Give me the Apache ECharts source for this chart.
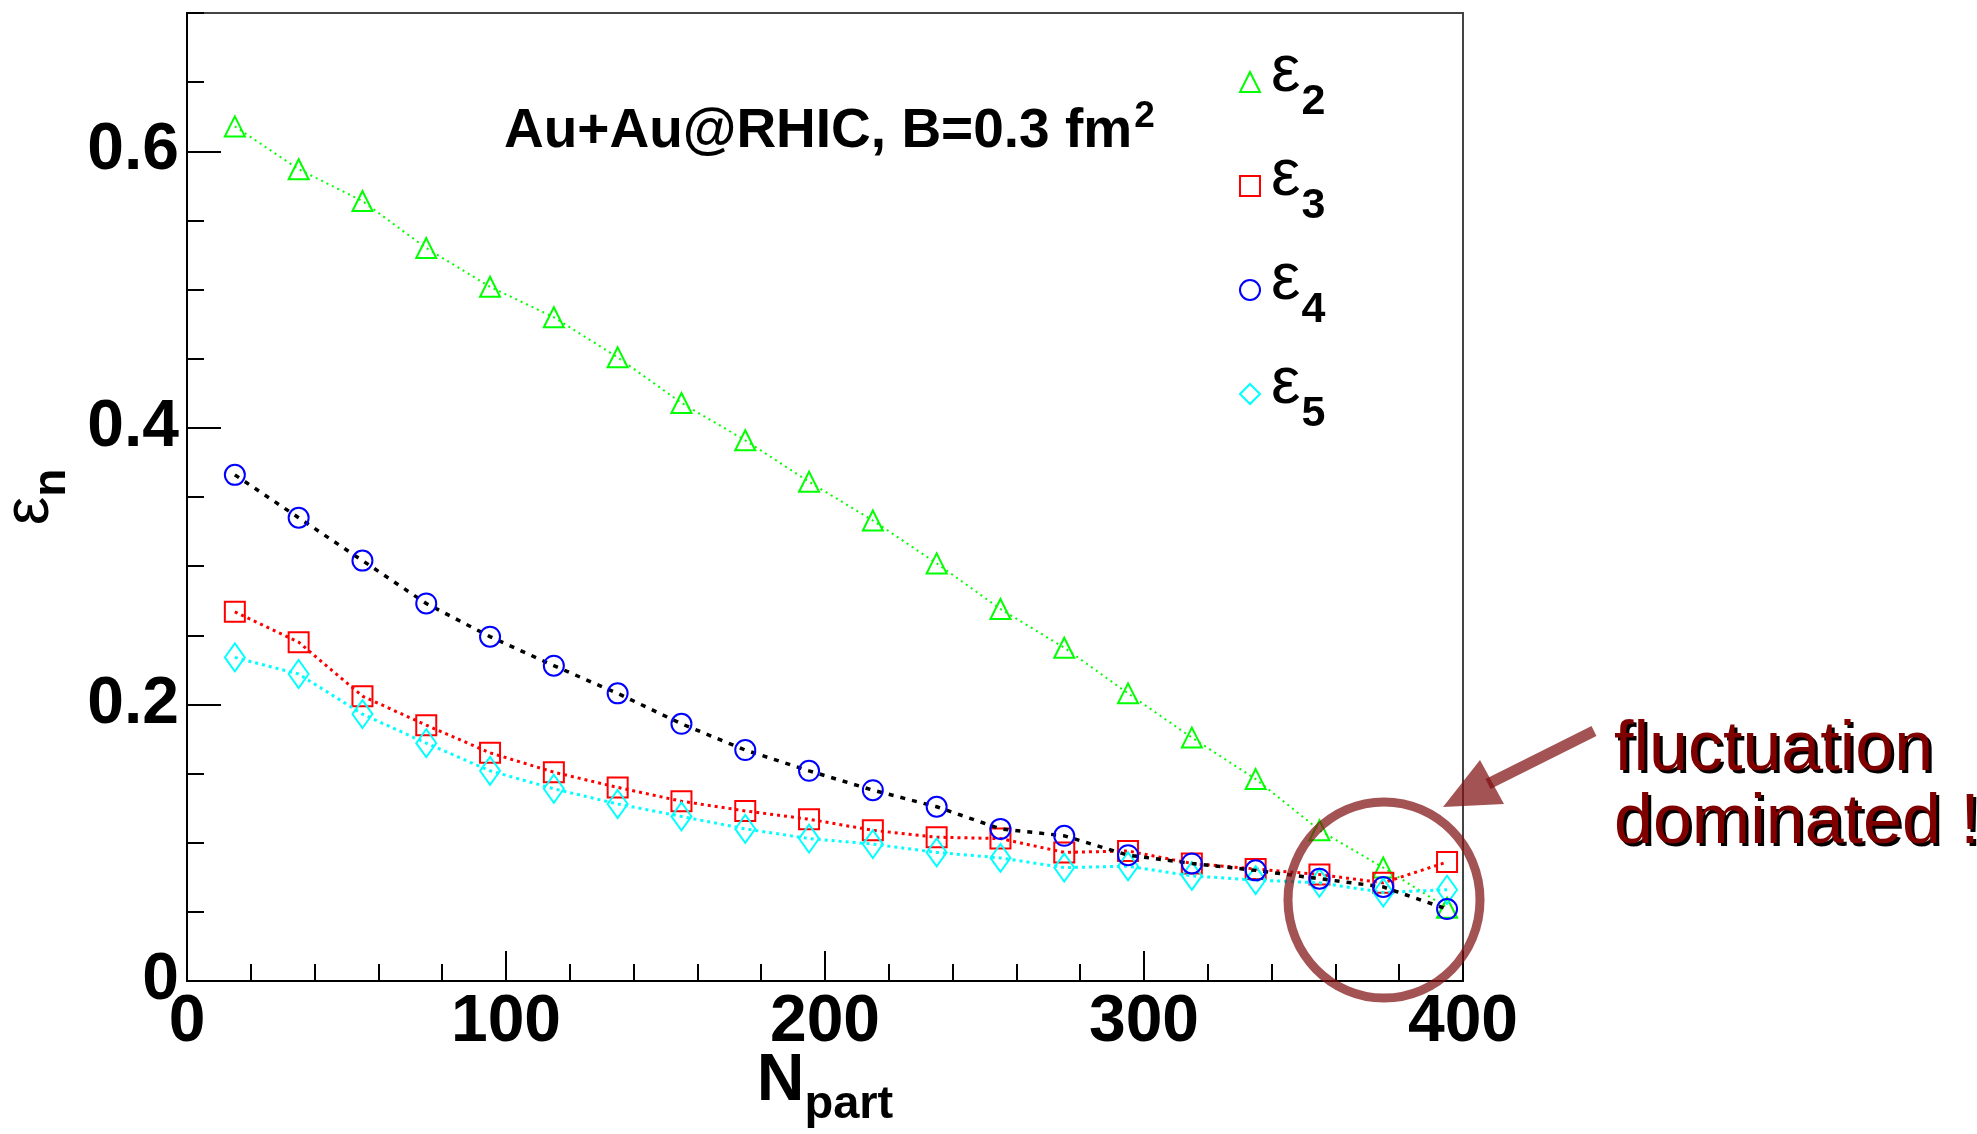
<!DOCTYPE html>
<html>
<head>
<meta charset="utf-8">
<script src="https://cdn.jsdelivr.net/npm/echarts@6/dist/echarts.min.js"></script>
<style>
html,body{margin:0;padding:0;background:#fff;}
#chart{width:1977px;height:1134px;}
</style>
</head>
<body>
<div id="chart"></div>
<script>
// ---- data ----
const npart = [15, 35, 55, 75, 95, 115, 135, 155, 175, 195, 215, 235, 255, 275, 295, 315, 335, 355, 375, 395];
const eps2 = [0.618, 0.587, 0.564, 0.530, 0.502, 0.480, 0.451, 0.418, 0.391, 0.361, 0.333, 0.302, 0.269, 0.241, 0.208, 0.176, 0.146, 0.109, 0.082, 0.053];
const eps3 = [0.267, 0.245, 0.206, 0.185, 0.165, 0.151, 0.140, 0.130, 0.123, 0.117, 0.109, 0.104, 0.103, 0.093, 0.094, 0.085, 0.081, 0.077, 0.071, 0.086];
const eps4 = [0.366, 0.335, 0.304, 0.273, 0.249, 0.228, 0.208, 0.186, 0.167, 0.152, 0.138, 0.126, 0.110, 0.105, 0.091, 0.085, 0.080, 0.074, 0.068, 0.052];
const eps5 = [0.234, 0.222, 0.193, 0.172, 0.152, 0.139, 0.128, 0.119, 0.110, 0.103, 0.099, 0.093, 0.089, 0.082, 0.083, 0.076, 0.073, 0.071, 0.064, 0.066];
const seriesNames = ['ε2', 'ε3', 'ε4', 'ε5'];
const xTicks = [0, 100, 200, 300, 400];
const yTicks = [0, 0.2, 0.4, 0.6];
const titleText = 'Au+Au@RHIC, B=0.3 fm';
const noteLines = ['fluctuation', 'dominated !'];

const FONT = '"Liberation Sans", Arial, Helvetica, sans-serif';
const chart = echarts.init(document.getElementById('chart'));
const pts = arr => npart.map((x, i) => [x, arr[i]]);
const clear = 'rgba(0,0,0,0)';

const option = {
  animation: false,
  backgroundColor: '#fff',
  title: {
    text: '{a|' + titleText + '}{b|2}',
    left: 504, top: 98, padding: 0,
    textStyle: {
      rich: {
        a: {fontSize: 55, fontWeight: 'bold', fontFamily: FONT, color: '#000', verticalAlign: 'top', padding: [6, 0, 0, 0]},
        b: {fontSize: 37, fontWeight: 'bold', fontFamily: FONT, color: '#000', verticalAlign: 'top', padding: [0, 0, 0, 2]}
      }
    }
  },
  legend: {
    orient: 'vertical', left: 1239, top: 40, padding: 0,
    itemWidth: 20, itemHeight: 20, itemGap: 20, selectedMode: false,
    data: [
      {name: seriesNames[0], icon: 'triangle', itemStyle: {color: clear, borderColor: '#00ff00', borderWidth: 2}},
      {name: seriesNames[1], icon: 'rect', itemStyle: {color: clear, borderColor: '#ff0000', borderWidth: 2}},
      {name: seriesNames[2], icon: 'circle', itemStyle: {color: clear, borderColor: '#0000ff', borderWidth: 2}},
      {name: seriesNames[3], icon: 'diamond', itemStyle: {color: clear, borderColor: '#00ffff', borderWidth: 2}}
    ],
    formatter: name => '{e|ε}{s|' + name.slice(1) + '}',
    textStyle: {
      rich: {
        e: {fontSize: 66, fontFamily: FONT, color: '#000', verticalAlign: 'top', padding: [0, 0, 0, 6]},
        s: {fontSize: 43, fontWeight: 'bold', fontFamily: FONT, color: '#000', verticalAlign: 'top', padding: [41, 0, 0, 1]}
      }
    }
  },
  grid: {left: 187, top: 13, width: 1276, height: 968, containLabel: false, outerBoundsMode: 'none',
    show: true, borderColor: '#444', borderWidth: 2, backgroundColor: clear},
  xAxis: {
    type: 'value', min: xTicks[0], max: xTicks[xTicks.length - 1], interval: 100,
    axisLine: {show: true, onZero: false, lineStyle: {color: '#000', width: 2}},
    axisTick: {show: true, inside: true, length: 30, lineStyle: {color: '#000', width: 2}},
    minorTick: {show: true, splitNumber: 5, length: 17, lineStyle: {color: '#000', width: 2}},
    splitLine: {show: false},
    axisLabel: {fontSize: 66, fontWeight: 'bold', fontFamily: FONT, color: '#000', margin: 9},
    name: '{n|N}{s|part}', nameLocation: 'middle', nameGap: 68, nameMoveOverlap: false,
    nameTextStyle: {
      rich: {
        n: {fontSize: 66, fontWeight: 'bold', fontFamily: FONT, color: '#000', verticalAlign: 'top'},
        s: {fontSize: 47, fontWeight: 'bold', fontFamily: FONT, color: '#000', verticalAlign: 'top', padding: [33, 0, 0, 0]}
      }
    }
  },
  yAxis: [
    {
      type: 'value', min: 0, max: 0.7, interval: 0.2, position: 'left',
      axisLine: {show: true, onZero: false, lineStyle: {color: '#000', width: 2}},
      axisTick: {show: true, inside: true, length: 34, lineStyle: {color: '#000', width: 2}},
      splitLine: {show: false},
      axisLabel: {
        showMaxLabel: false, fontSize: 66, fontWeight: 'bold', fontFamily: FONT, color: '#000', margin: 8,
        formatter: v => (Math.abs(v) < 1e-9 ? '0' : v.toFixed(1))
      },
      name: '{e|ε}{n|n}', nameLocation: 'middle', nameRotate: 90, nameGap: 112, nameMoveOverlap: false,
      nameTextStyle: {
        rich: {
          e: {fontSize: 64, fontFamily: FONT, color: '#000', verticalAlign: 'top'},
          n: {fontSize: 46, fontWeight: 'bold', fontFamily: FONT, color: '#000', verticalAlign: 'top', padding: [31, 0, 0, 0]}
        }
      }
    },
    {
      type: 'value', min: 0, max: 0.7, interval: 0.05, position: 'left',
      axisLine: {show: false},
      axisTick: {show: true, inside: true, length: 17, lineStyle: {color: '#000', width: 2}},
      axisLabel: {show: false},
      splitLine: {show: false}
    }
  ],
  series: [
    {
      name: seriesNames[0], type: 'line', data: pts(eps2), yAxisIndex: 0,
      symbol: 'triangle', symbolSize: 20,
      itemStyle: {color: clear, borderColor: '#00ff00', borderWidth: 2},
      lineStyle: {color: '#00ff00', width: 2, type: [2, 4]}, z: 2
    },
    {
      name: seriesNames[1], type: 'line', data: pts(eps3), yAxisIndex: 0,
      symbol: 'rect', symbolSize: 20,
      itemStyle: {color: clear, borderColor: '#ff0000', borderWidth: 2},
      lineStyle: {color: '#ff0000', width: 3, type: [3, 4]}, z: 3
    },
    {
      name: seriesNames[2], type: 'line', data: pts(eps4), yAxisIndex: 0,
      symbol: 'circle', symbolSize: 20,
      itemStyle: {color: clear, borderColor: '#0000ff', borderWidth: 2},
      lineStyle: {color: '#000000', width: 3.5, type: [5, 7]}, z: 5
    },
    {
      name: seriesNames[3], type: 'line', data: pts(eps5), yAxisIndex: 0,
      symbol: 'diamond', symbolSize: [20, 28],
      itemStyle: {color: clear, borderColor: '#00ffff', borderWidth: 2},
      lineStyle: {color: '#00ffff', width: 3, type: [3, 4]}, z: 4
    }
  ],
  graphic: [
    {type: 'ellipse', z: 100, shape: {cx: 1384, cy: 900, rx: 96, ry: 98},
      style: {fill: null, stroke: 'rgba(128,16,16,0.72)', lineWidth: 9}},
    {type: 'line', z: 100, shape: {x1: 1594, y1: 731, x2: 1488, y2: 784},
      style: {stroke: 'rgba(128,16,16,0.72)', lineWidth: 11}},
    {type: 'polygon', z: 100, shape: {points: [[1443, 807], [1504, 804], [1480, 760]]},
      style: {fill: 'rgba(128,16,16,0.72)'}},
    {type: 'text', z: 100, style: {text: noteLines[0], x: 1617, y: 719, fill: '#000', font: '70px ' + FONT, verticalAlign: 'top'}},
    {type: 'text', z: 101, style: {text: noteLines[0], x: 1614, y: 716, fill: '#800000', font: '70px ' + FONT, verticalAlign: 'top'}},
    {type: 'text', z: 100, style: {text: noteLines[1], x: 1617, y: 792, fill: '#000', font: '70px ' + FONT, verticalAlign: 'top'}},
    {type: 'text', z: 101, style: {text: noteLines[1], x: 1614, y: 789, fill: '#800000', font: '70px ' + FONT, verticalAlign: 'top'}}
  ]
};
chart.setOption(option);
</script>
</body>
</html>
